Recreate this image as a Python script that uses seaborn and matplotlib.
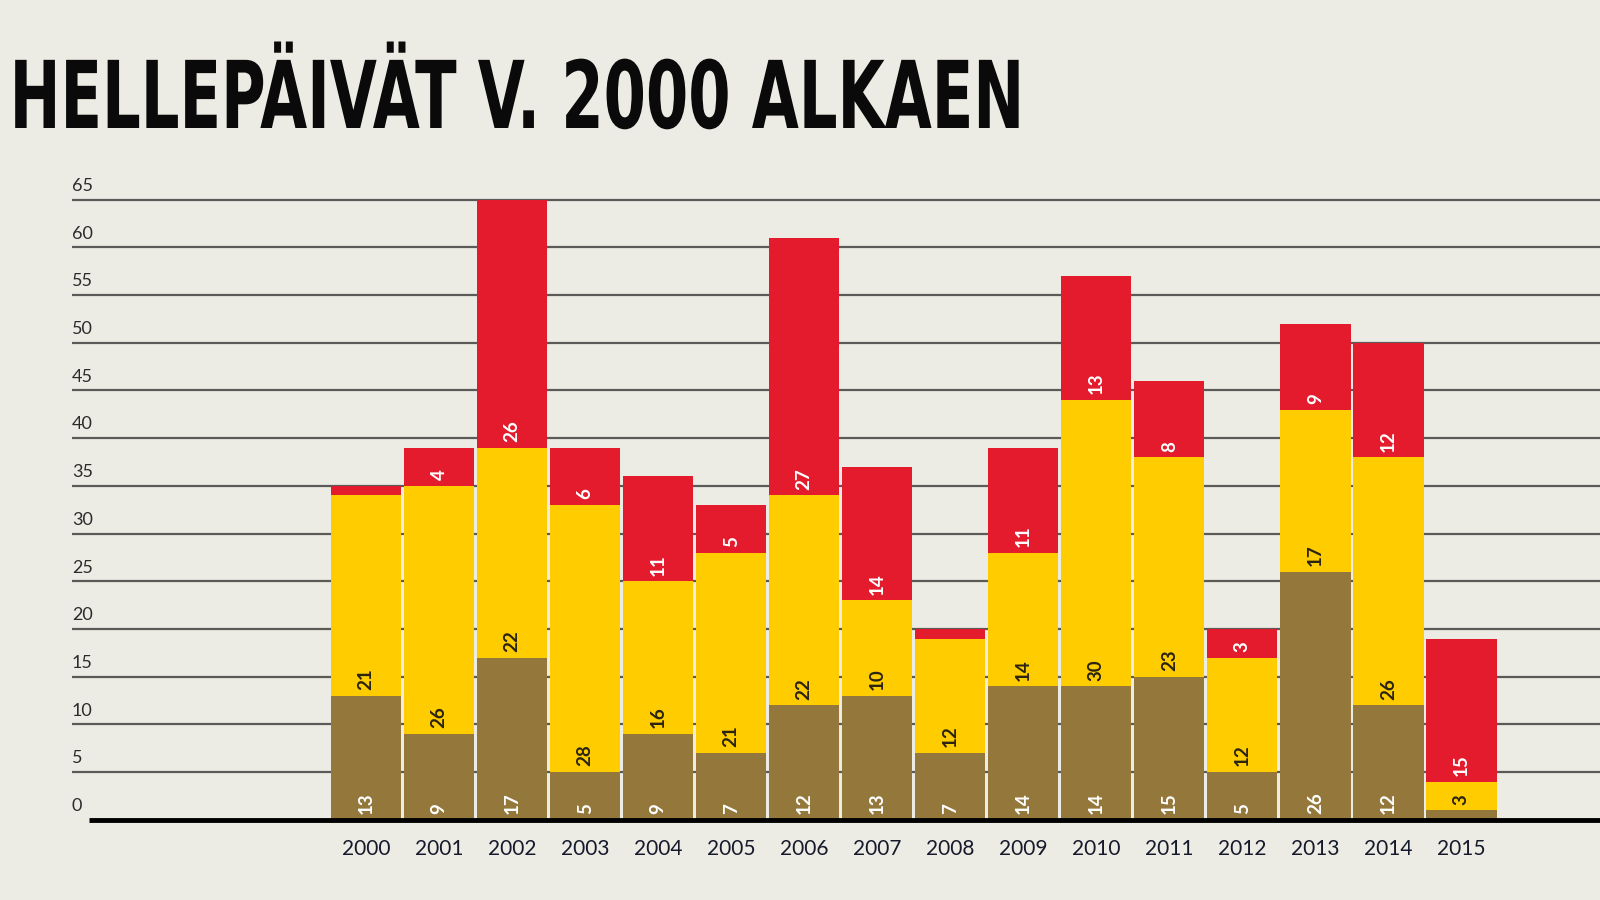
import matplotlib
matplotlib.use("Agg")
import matplotlib.pyplot as plt
import seaborn as sns
import pandas as pd
import numpy as np
from matplotlib.patheffects import AbstractPathEffect
from matplotlib.transforms import Affine2D

# ---- data ----
years = [str(y) for y in range(2000, 2016)]
brown = [13, 9, 17, 5, 9, 7, 12, 13, 7, 14, 14, 15, 5, 26, 12, 1]
yellow = [21, 26, 22, 28, 16, 21, 22, 10, 12, 14, 30, 23, 12, 17, 26, 3]
red = [1, 4, 26, 6, 11, 5, 27, 14, 1, 11, 13, 8, 3, 9, 12, 15]
yticks = list(range(0, 70, 5))
title = "HELLEPÄIVÄT V. 2000 ALKAEN"

BG = "#EDECE4"
C_BROWN = "#94773A"
C_YELLOW = "#FFCC00"
C_RED = "#E31B2D"

sns.set_theme(style="white")
plt.rcParams["font.family"] = ["Lato", "DejaVu Sans"]

df = pd.DataFrame({"year": years, "brown": brown, "yellow": yellow, "red": red})
df["by"] = df["brown"] + df["yellow"]
df["total"] = df["by"] + df["red"]

fig = plt.figure(figsize=(16, 9), dpi=100, facecolor=BG)
ax = fig.add_axes([0.045, 0.089, 0.955, 0.721])
ax.set_facecolor(BG)

W = 0.965
sns.barplot(data=df, x="year", y="total", color=C_RED, width=W, saturation=1,
            linewidth=0, ax=ax, zorder=3)
sns.barplot(data=df, x="year", y="by", color=C_YELLOW, width=W, saturation=1,
            linewidth=0, ax=ax, zorder=4)
sns.barplot(data=df, x="year", y="brown", color=C_BROWN, width=W, saturation=1,
            linewidth=0, ax=ax, zorder=5)

ax.set_xlim(-4.03, 16.9)
ax.set_ylim(0, 68)

# gridlines and y labels
for v in yticks:
    if v > 0:
        ax.axhline(v, color="#5a5a58", lw=1.6, zorder=1)
    ax.text(0.0, v + 0.6, str(v), transform=ax.get_yaxis_transform(),
            ha="left", va="bottom", fontsize=13, color="#2b2b2b", zorder=2)

# baseline
ax.plot([-3.8, 16.9], [0, 0], color="black", lw=3.5, zorder=6, clip_on=False,
        solid_capstyle="butt")

for s in ax.spines.values():
    s.set_visible(False)
ax.set_xlabel("")
ax.set_ylabel("")
ax.set_yticks([])
ax.tick_params(axis="x", length=0, pad=14, labelsize=15, labelcolor="#15192b")
ax.set_xticks(range(len(years)))
ax.set_xticklabels(years)

# value labels
for i in range(len(years)):
    segs = [(0, brown[i], "white"),
            (brown[i], yellow[i], "#2a2410"),
            (brown[i] + yellow[i], red[i], "white")]
    for base, val, col in segs:
        if val >= 2:
            ax.text(i, base + 0.6, str(val), rotation=90, ha="center",
                    va="bottom", fontsize=13.5, fontweight="bold",
                    color=col, zorder=7)


class Squeeze(AbstractPathEffect):
    """Draw the glyphs horizontally compressed (condensed headline look)."""
    def __init__(self, sx):
        super().__init__()
        self.sx = sx

    def draw_path(self, renderer, gc, tpath, affine, rgbFace=None):
        renderer.draw_path(gc, tpath, Affine2D().scale(self.sx, 1.0) + affine, rgbFace)


# title
t = fig.text(0.006, 1 - 128 / 900, title, ha="left", va="baseline",
             fontsize=100, fontweight="bold",
             family=["Liberation Sans Narrow", "DejaVu Sans"],
             color="#0a0a0a")
fig.canvas.draw()
w100 = t.get_window_extent().width
fs = 100 * 1560 / w100
t.set_fontsize(fs)
fig.canvas.draw()
w = t.get_window_extent().width
t.set_path_effects([Squeeze(1015 / w)])

fig.savefig("out.png", dpi=100, facecolor=BG)
